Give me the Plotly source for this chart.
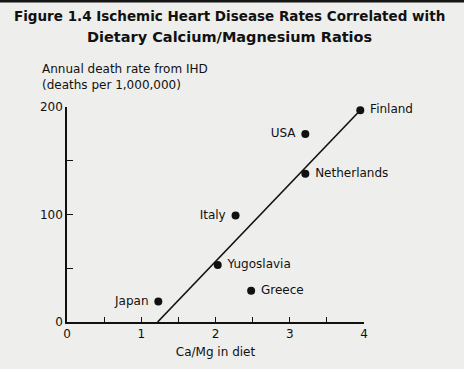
import plotly.graph_objects as go

countries = ["Finland", "USA", "Netherlands", "Italy", "Yugoslavia", "Greece", "Japan"]
ca_mg = [3.95, 3.21, 3.21, 2.27, 2.03, 2.48, 1.23]
ihd_rate = [197, 175, 138, 99, 53, 29, 19]
label_side = ["middle right", "middle left", "middle right", "middle left",
              "middle right", "middle right", "middle left"]

fit_x = [1.22, 3.95]
fit_y = [0, 197]

x_ticks = [0, 0.5, 1, 1.5, 2, 2.5, 3, 3.5, 4]
x_ticktext = ["0", "", "1", "", "2", "", "3", "", "4"]
y_ticks = [0, 50, 100, 150, 200]
y_ticktext = ["0", "", "100", "", "200"]

BG = "#eeeeec"
INK = "#111111"
FONT = "DejaVu Sans"
PLOT_H = 215  # plot area height in px (for paper-coordinate offsets)

fig = go.Figure()
fig.add_trace(go.Scatter(
    x=fit_x, y=fit_y, mode="lines",
    line=dict(color=INK, width=1.6), hoverinfo="skip", cliponaxis=False))
fig.add_trace(go.Scatter(
    x=ca_mg, y=ihd_rate, mode="markers+text",
    text=[" " + c if p.endswith("right") else c + " " for c, p in zip(countries, label_side)],
    textposition=label_side,
    textfont=dict(family=FONT, size=12, color=INK),
    marker=dict(color=INK, size=8), cliponaxis=False))

fig.update_layout(
    width=464, height=369, autosize=False,
    paper_bgcolor=BG, plot_bgcolor=BG,
    showlegend=False,
    margin=dict(l=67, r=100, t=107, b=47),
    font=dict(family=FONT, size=12, color=INK),
    xaxis=dict(
        range=[0, 4], showgrid=False, zeroline=False,
        showline=True, linecolor=INK, linewidth=1.5,
        ticks="inside", ticklen=5, tickwidth=1.2, tickcolor=INK,
        tickvals=x_ticks, ticktext=x_ticktext,
        tickfont=dict(family=FONT, size=12, color=INK),
        title=dict(text="Ca/Mg in diet", font=dict(family=FONT, size=12, color=INK), standoff=7),
    ),
    yaxis=dict(
        range=[0, 200], showgrid=False, zeroline=False,
        showline=True, linecolor=INK, linewidth=1.5,
        ticks="inside", ticklen=6, tickwidth=1.2, tickcolor=INK,
        tickvals=y_ticks, ticktext=y_ticktext,
        tickfont=dict(family=FONT, size=12, color=INK),
    ),
    annotations=[
        dict(
            text="<b>Figure 1.4 Ischemic Heart Disease Rates Correlated with</b>",
            xref="paper", yref="paper", x=(229 - 67) / 297, y=1 + (107 - 16) / PLOT_H,
            xanchor="center", yanchor="middle", showarrow=False,
            font=dict(family=FONT, size=13.5, color=INK),
        ),
        dict(
            text="<b>Dietary Calcium/Magnesium Ratios</b>",
            xref="paper", yref="paper", x=(229 - 67) / 297, y=1 + (107 - 37) / PLOT_H,
            xanchor="center", yanchor="middle", showarrow=False,
            font=dict(family=FONT, size=14.5, color=INK),
        ),
        dict(
            text="Annual death rate from IHD<br>(deaths per 1,000,000)",
            xref="paper", yref="paper", x=0, y=1, xshift=-27, yshift=13,
            xanchor="left", yanchor="bottom", align="left", showarrow=False,
            font=dict(family=FONT, size=12, color=INK),
        ),
    ],
    shapes=[dict(type="rect", xref="paper", yref="paper",
                 x0=-0.3, x1=1.4, y0=1 + 104.5 / PLOT_H, y1=1 + 108 / PLOT_H,
                 fillcolor="#151515", line=dict(width=0), layer="above")],
)

fig.write_html("out.html", config={"displayModeBar": False},
               post_script="document.body.style.margin='0';")
